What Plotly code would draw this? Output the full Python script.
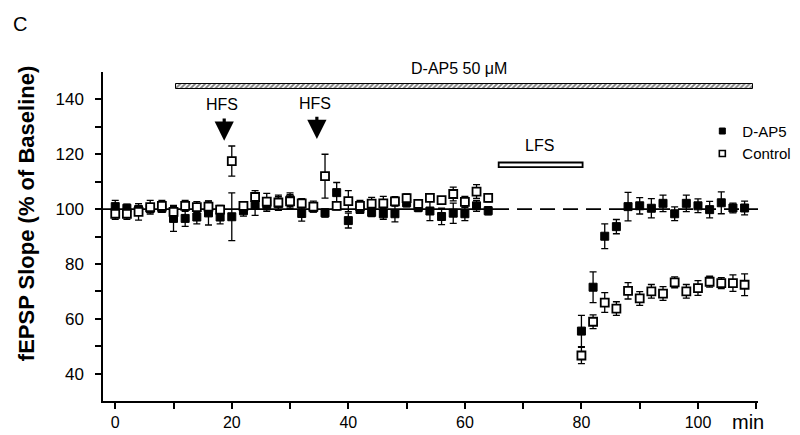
import plotly.graph_objects as go

# ---------------- data ----------------
t_pre = list(range(0, 66, 2))
t_post = list(range(80, 110, 2))
times = t_pre + t_post

dap5_vals = [100.9, 100.3, 99.8, 100.2, 100.3, 96.6, 96.6, 97.1, 98.6, 97.1,
             97.2, 99.4, 101.5, 101.7, 102.0, 103.4, 98.4, 100.5, 98.6, 106.0,
             95.8, 99.9, 98.8, 98.3, 98.3, 102.3, 100.6, 99.3, 97.3, 98.5,
             98.3, 101.2, 99.4,
             55.5, 71.5, 90.1, 93.6, 100.9, 101.2, 100.3, 102.1, 98.3, 102.1,
             101.2, 99.8, 102.3, 100.4, 100.4]
dap5_err = [2.3, 1.5, 1.5, 1.5, 1.5, 4.7, 2.9, 2.5, 4.4, 2.5,
            8.7, 2.0, 3.8, 2.5, 2.5, 2.5, 2.8, 1.5, 1.5, 3.7,
            2.7, 1.5, 1.5, 2.0, 3.0, 1.5, 1.5, 3.5, 3.0, 3.7,
            2.5, 2.0, 1.5,
            5.7, 5.6, 4.5, 2.6, 5.2, 3.0, 3.5, 3.0, 2.5, 3.0,
            2.5, 3.0, 4.0, 1.8, 2.5]

ctrl_vals = [98.3, 98.3, 99.0, 100.7, 101.2, 99.0, 101.2, 100.7, 100.9, 99.8,
             117.5, 101.2, 104.4, 102.7, 102.4, 102.8, 102.1, 100.9, 112.0, 101.2,
             102.9, 101.2, 102.0, 102.1, 102.8, 104.0, 101.9, 104.1, 103.3, 105.5,
             102.6, 106.4, 104.1,
             46.6, 58.9, 65.9, 63.7, 70.2, 67.4, 70.0, 69.2, 73.3, 70.0,
             71.2, 73.5, 73.0, 73.0, 72.4]
ctrl_err = [2.0, 2.0, 3.0, 2.5, 2.0, 2.0, 2.0, 2.0, 2.0, 1.5,
            5.5, 1.5, 2.3, 3.0, 2.7, 2.5, 1.7, 2.0, 8.0, 1.5,
            3.8, 2.0, 2.3, 2.5, 1.7, 1.5, 1.5, 1.3, 1.0, 2.5,
            2.0, 2.5, 1.5,
            3.0, 2.5, 3.6, 2.5, 3.0, 2.5, 2.5, 2.5, 2.0, 2.5,
            2.7, 2.0, 2.0, 3.0, 4.0]

baseline_solid_x = [-2.1, 65]
baseline_dash_x = [65, 110.5]
baseline_y = [100, 100]

drug_bar = dict(start=10.5, end=109.5, y=144.7, h=1.8)
lfs_box = dict(x0=65.8, x1=80.2, y0=115.3, y1=117.0)
hfs_times = [18.7, 34.6]

x_ticks = [0, 20, 40, 60, 80, 100]
y_ticks = [40, 60, 80, 100, 120, 140]

FONT = "Liberation Sans, Arial, sans-serif"

fig = go.Figure()

# drug application bar (hatched)
fig.add_trace(go.Bar(
    x=[drug_bar["end"] - drug_bar["start"]], y=[drug_bar["y"]], base=[drug_bar["start"]],
    orientation="h", width=drug_bar["h"],
    marker=dict(color="white", line=dict(color="black", width=1),
                pattern=dict(shape="/", fgcolor="black", bgcolor="white", size=3.5, solidity=0.55)),
    showlegend=False, hoverinfo="skip"))

# baseline lines
fig.add_trace(go.Scatter(x=baseline_solid_x, y=baseline_y, mode="lines",
                         line=dict(color="black", width=1.6), showlegend=False, hoverinfo="skip"))
fig.add_trace(go.Scatter(x=baseline_dash_x, y=baseline_y, mode="lines",
                         line=dict(color="black", width=1.6, dash="15px,8px"),
                         showlegend=False, hoverinfo="skip"))

# D-AP5 (filled)
fig.add_trace(go.Scatter(
    x=times, y=dap5_vals, mode="markers",
    error_y=dict(type="data", array=dap5_err, color="black", thickness=1.3, width=3.5),
    marker=dict(symbol="square", size=8, color="black", line=dict(color="black", width=1)),
    showlegend=False))
# Control (open)
fig.add_trace(go.Scatter(
    x=times, y=ctrl_vals, mode="markers",
    error_y=dict(type="data", array=ctrl_err, color="black", thickness=1.3, width=3.5),
    marker=dict(symbol="square", size=8, color="white", line=dict(color="black", width=1.8)),
    showlegend=False))

# legend-only entries
fig.add_trace(go.Scatter(x=[None], y=[None], mode="markers", name="D-AP5",
                         marker=dict(symbol="square", size=6, color="black",
                                     line=dict(color="black", width=1))))
fig.add_trace(go.Scatter(x=[None], y=[None], mode="markers", name="Control",
                         marker=dict(symbol="square", size=6, color="white",
                                     line=dict(color="black", width=1.6))))

shapes = [dict(type="rect", xref="x", yref="y", x0=lfs_box["x0"], x1=lfs_box["x1"],
               y0=lfs_box["y0"], y1=lfs_box["y1"], line=dict(color="black", width=1.8),
               fillcolor="white")]

def txt(x, y, s, size, xref="x", yref="y", angle=0):
    return dict(x=x, y=y, xref=xref, yref=yref, text=s, showarrow=False, textangle=angle,
                xanchor="center", yanchor="middle",
                font=dict(family=FONT, size=size, color="black"))

annotations = []
for tx, ty in zip(hfs_times, [138.0, 138.6]):
    annotations.append(txt(tx - 0.3, ty, "HFS", 16))
for tx, tip, tail in zip(hfs_times, [124.9, 125.6], [133.6, 134.2]):
    annotations.append(dict(x=tx, y=tip, ax=tx, ay=tail, xref="x", yref="y", axref="x", ayref="y",
                            text="", showarrow=True, arrowhead=2, arrowsize=1.2, arrowwidth=3.2,
                            arrowcolor="black"))
annotations += [
    txt(72.8, 123.2, "LFS", 16),
    txt((59 + 2.1) / 112.4, 1.012, "D-AP5 50 \u03bcM", 16, xref="paper", yref="paper"),
    txt(-0.126, 1.147, "C", 20, xref="paper", yref="paper"),
    txt(-0.117, 0.569, "<b>fEPSP Slope (% of Baseline)</b>", 22, xref="paper", yref="paper",
        angle=-90),
    txt(0.984, -0.064, "min", 20, xref="paper", yref="paper"),
]

fig.update_layout(
    width=800, height=435,
    margin=dict(l=95, r=31, t=64, b=28),
    plot_bgcolor="white", paper_bgcolor="white",
    font=dict(family=FONT, size=16, color="black"),
    shapes=shapes, annotations=annotations,
    showlegend=True,
    legend=dict(x=0.915, y=0.87, xanchor="left", yanchor="top", bgcolor="rgba(0,0,0,0)",
                font=dict(family=FONT, size=15, color="black"), tracegroupgap=0,
                itemwidth=30),
    xaxis=dict(range=[-2.1, 110.3], showgrid=False, zeroline=False, showline=True,
               linecolor="black", linewidth=1.5, ticks="outside", ticklen=6, tickwidth=1.5,
               tickcolor="black", tickvals=x_ticks, ticktext=[str(v) for v in x_ticks],
               minor=dict(tickvals=[10, 30, 50, 70, 90, 110], ticks="outside", ticklen=6,
                          tickwidth=1.5, tickcolor="black"),
               tickfont=dict(family=FONT, size=16)),
    yaxis=dict(range=[30, 150], showgrid=False, zeroline=False, showline=True,
               linecolor="black", linewidth=1.5, ticks="outside", ticklen=6, tickwidth=1.5,
               tickcolor="black", tickvals=y_ticks, ticktext=[str(v) for v in y_ticks],
               minor=dict(tickvals=[50, 70, 90, 110, 130], ticks="outside", ticklen=6,
                          tickwidth=1.5, tickcolor="black"),
               tickfont=dict(family=FONT, size=17), ticklabelstandoff=8),
    bargap=0,
)

fig.write_html("out.html")
